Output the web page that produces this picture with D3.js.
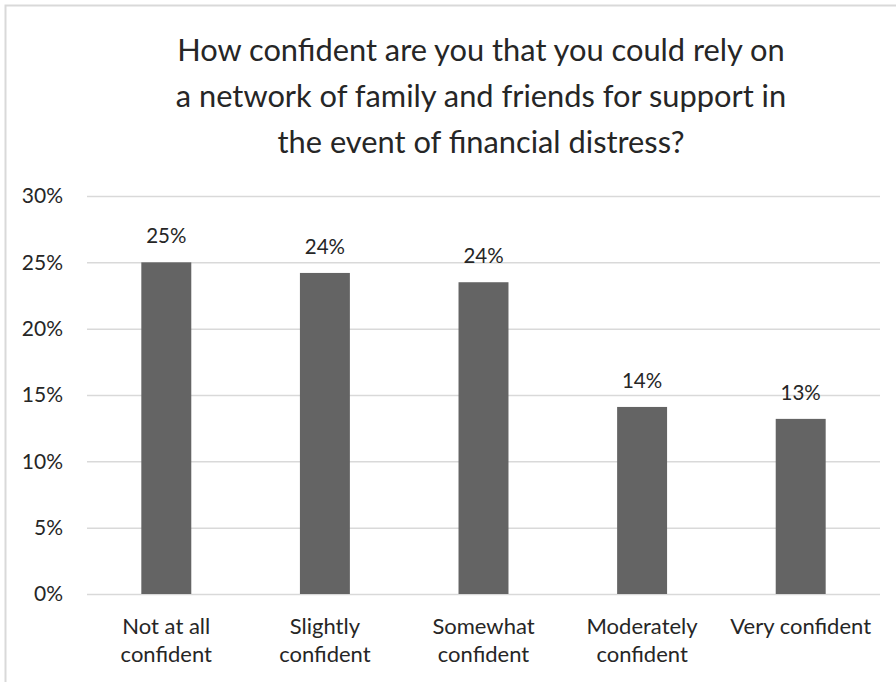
<!DOCTYPE html>
<html>
<head>
<meta charset="utf-8">
<script src="https://cdn.jsdelivr.net/npm/d3@7"></script>
<style>
  html, body { margin: 0; padding: 0; background: #fff; }
  svg { display: block; }
  text { font-family: Lato, "Open Sans", sans-serif; fill: #262626; }
</style>
</head>
<body>
<script>
// Survey responses: share of respondents per confidence level
const categories = [
  ["Not at all", "confident"],
  ["Slightly", "confident"],
  ["Somewhat", "confident"],
  ["Moderately", "confident"],
  ["Very confident"]
];
const values = [0.250, 0.242, 0.235, 0.141, 0.132];
const valueLabels = ["25%", "24%", "24%", "14%", "13%"];
const yTicks = [0, 0.05, 0.10, 0.15, 0.20, 0.25, 0.30];
const titleLines = [
  "How confident are you that you could rely on",
  "a network of family and friends for support in",
  "the event of financial distress?"
];

const W = 896, H = 682;
const margin = { left: 87, right: 16, top: 196, bottom: 88 };

const svg = d3.select("body").append("svg")
  .attr("width", W).attr("height", H);

// chart frame
svg.append("rect")
  .attr("x", 5.5).attr("y", 5.5)
  .attr("width", W + 10).attr("height", H + 10)
  .attr("fill", "none").attr("stroke", "#d9d9d9").attr("stroke-width", 2);

const x = d3.scaleBand()
  .domain(d3.range(categories.length))
  .range([margin.left, W - margin.right])
  .paddingInner(0.685).paddingOuter(0.3425);

const y = d3.scaleLinear()
  .domain([0, 0.30])
  .range([H - margin.bottom, margin.top]);

// title
svg.append("g").selectAll("text")
  .data(titleLines).join("text")
  .attr("x", 481)
  .attr("y", (d, i) => 61 + i * 46)
  .attr("text-anchor", "middle")
  .style("font-size", "30.8px")
  .text(d => d);

// gridlines
const yAxis = d3.axisLeft(y)
  .tickValues(yTicks)
  .tickSize(-(W - margin.right - margin.left))
  .tickPadding(24)
  .tickFormat(d3.format(".0%"));

const gy = svg.append("g")
  .attr("transform", `translate(${margin.left},0)`)
  .call(yAxis);
gy.select(".domain").remove();
gy.selectAll(".tick line").attr("stroke", "#d9d9d9").attr("stroke-width", 1.5);
gy.selectAll(".tick text")
  .style("font-size", "21px")
  .attr("fill", "#262626")
  .style("font-family", "Lato, sans-serif");

// bars
svg.append("g").selectAll("rect")
  .data(values).join("rect")
  .attr("x", (d, i) => x(i))
  .attr("width", x.bandwidth())
  .attr("y", d => y(d))
  .attr("height", d => y(0) - y(d))
  .attr("fill", "#646464");

// value labels
svg.append("g").selectAll("text")
  .data(values).join("text")
  .attr("x", (d, i) => x(i) + x.bandwidth() / 2)
  .attr("y", d => y(d) - 19)
  .attr("text-anchor", "middle")
  .style("font-size", "20.5px")
  .text((d, i) => valueLabels[i]);

// category labels
const cat = svg.append("g").selectAll("text")
  .data(categories).join("text")
  .attr("x", (d, i) => x(i) + x.bandwidth() / 2)
  .attr("y", 634)
  .attr("text-anchor", "middle")
  .style("font-size", "22px");
cat.selectAll("tspan")
  .data(d => d).join("tspan")
  .attr("x", function() { return this.parentNode.getAttribute("x"); })
  .attr("dy", (d, i) => i === 0 ? 0 : 27.5)
  .text(d => d);
</script>
</body>
</html>
